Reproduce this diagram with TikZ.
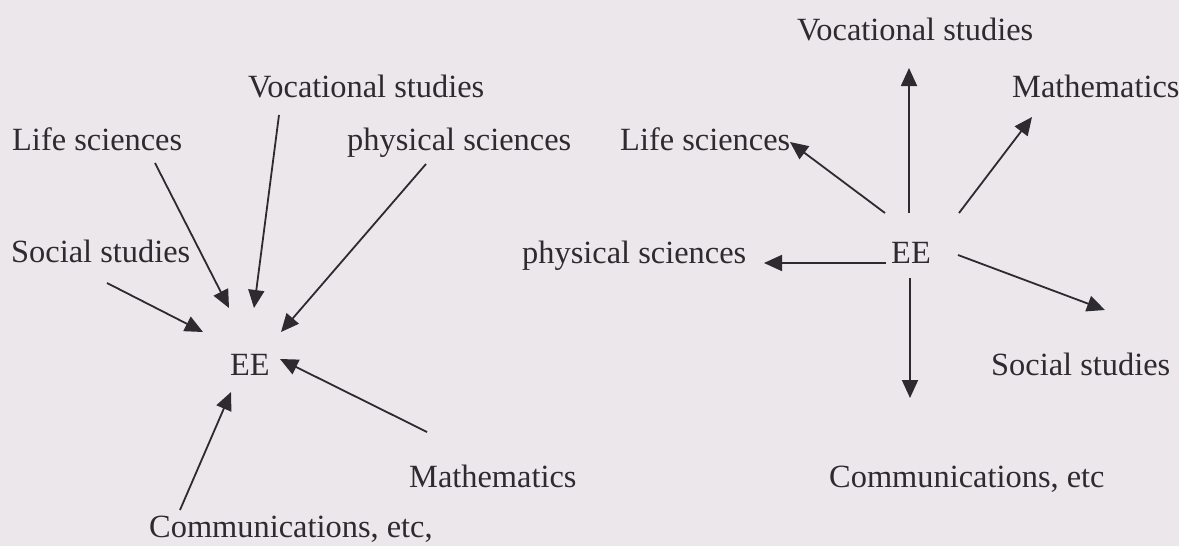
\documentclass[tikz,border=0pt]{standalone}
\usepackage{fontspec}
\setmainfont{Liberation Serif}
\usetikzlibrary{arrows.meta}
\definecolor{bg}{RGB}{235,231,235}
\definecolor{ink}{RGB}{45,43,47}
\begin{document}
\begin{tikzpicture}[x=1pt,y=-1pt,
  lab/.style={anchor=base west,inner sep=0pt,text=ink,font=\fontsize{32.4}{38}\selectfont},
  arr/.style={draw=ink,line width=1.8pt,-{Triangle[length=18pt,width=16pt]}}]
\fill[bg] (0,0) rectangle (1179,546);
\useasboundingbox (0,0) rectangle (1179,546);
% left diagram
\node[lab] (lvoc) at (248,97) {Vocational studies};
\node[lab] (llife) at (12,150) {Life sciences};
\node[lab] (lphys) at (347,150) {physical sciences};
\node[lab] (lsoc) at (11,262) {Social studies};
\node[lab] (lee) at (230,375) {EE};
\node[lab] (lmath) at (409,487) {Mathematics};
\node[lab] (lcomm) at (149,537) {Communications, etc,};
\coordinate (a1s) at (155,163); \coordinate (a1e) at (229,308);
\coordinate (a2s) at (279,115); \coordinate (a2e) at (254,308);
\coordinate (a3s) at (426,164); \coordinate (a3e) at (281,332);
\coordinate (a4s) at (107,283); \coordinate (a4e) at (203,332);
\coordinate (a5s) at (427,432); \coordinate (a5e) at (280,359);
\coordinate (a6s) at (180,510); \coordinate (a6e) at (231,392);
\draw[arr] (a1s) -- (a1e);
\draw[arr] (a2s) -- (a2e);
\draw[arr] (a3s) -- (a3e);
\draw[arr] (a4s) -- (a4e);
\draw[arr] (a5s) -- (a5e);
\draw[arr] (a6s) -- (a6e);
% right diagram
\node[lab] (rvoc) at (797,40) {Vocational studies};
\node[lab] (rmath) at (1012,97) {Mathematics};
\node[lab] (rlife) at (620,150) {Life sciences};
\node[lab] (rphys) at (522,263) {physical sciences};
\node[lab] (ree) at (891,263) {EE};
\node[lab] (rsoc) at (991,375) {Social studies};
\node[lab] (rcomm) at (829,487) {Communications, etc};
\coordinate (b1s) at (909,213); \coordinate (b1e) at (909,68);
\coordinate (b2s) at (885,213); \coordinate (b2e) at (790,142);
\coordinate (b3s) at (959,213); \coordinate (b3e) at (1032,117);
\coordinate (b4s) at (886,263); \coordinate (b4e) at (764,263);
\coordinate (b5s) at (958,255); \coordinate (b5e) at (1105,310);
\coordinate (b6s) at (910,278); \coordinate (b6e) at (910,398);
\draw[arr] (b1s) -- (b1e);
\draw[arr] (b2s) -- (b2e);
\draw[arr] (b3s) -- (b3e);
\draw[arr] (b4s) -- (b4e);
\draw[arr] (b5s) -- (b5e);
\draw[arr] (b6s) -- (b6e);
\end{tikzpicture}
\end{document}
